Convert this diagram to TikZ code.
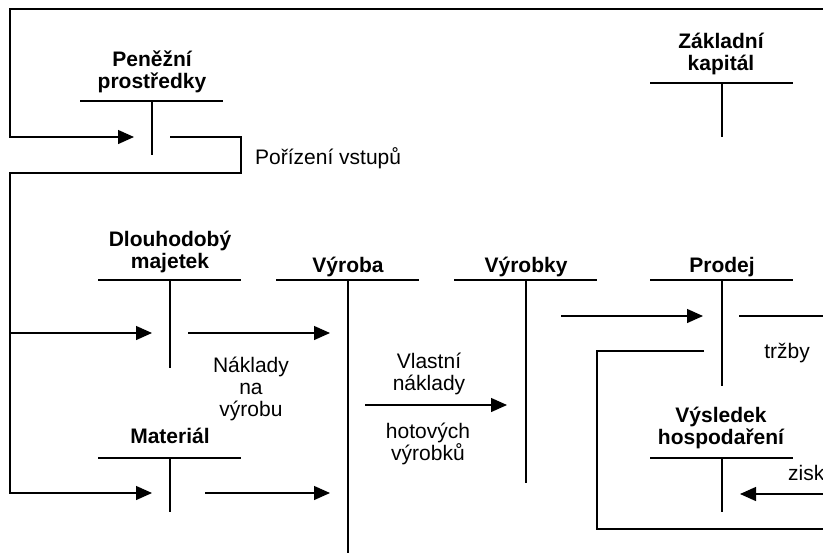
\documentclass[tikz,border=0pt]{standalone}
\usepackage{fontspec}
\setmainfont{Liberation Sans}
\usetikzlibrary{arrows.meta}
\begin{document}
\begin{tikzpicture}[x=1pt,y=-1pt,
  tline/.style={line width=1.3pt},
  arr/.style={tline,-{Triangle[length=16pt,width=14pt]}},
  ttl/.style={font=\fontsize{21}{22}\selectfont\bfseries, align=center, inner sep=0pt, anchor=base},
  lbl/.style={font=\fontsize{21}{22}\selectfont, align=center, inner sep=0pt, anchor=base}]
\useasboundingbox (0,0) rectangle (823,560);

% ---- T-accounts ----
% Penezni prostredky
\node[ttl] (tPen) at (152,88) {Peněžní\\prostředky};
\coordinate (penL) at (80,101); \coordinate (penR) at (223,101);
\coordinate (penT) at (152,101); \coordinate (penB) at (152,155);
\draw[tline] (penL) -- (penR); \draw[tline] (penT) -- (penB);
% Zakladni kapital
\node[ttl] (tZak) at (721,70) {Základní\\kapitál};
\coordinate (zakL) at (650,83); \coordinate (zakR) at (793,83);
\coordinate (zakT) at (722,83); \coordinate (zakB) at (722,137);
\draw[tline] (zakL) -- (zakR); \draw[tline] (zakT) -- (zakB);
% Dlouhodoby majetek
\node[ttl] (tDlo) at (170,268) {Dlouhodobý\\majetek};
\coordinate (dloL) at (98,280); \coordinate (dloR) at (241,280);
\coordinate (dloT) at (170,280); \coordinate (dloB) at (170,368);
\draw[tline] (dloL) -- (dloR); \draw[tline] (dloT) -- (dloB);
% Vyroba
\node[ttl] (tVba) at (348,272) {Výroba};
\coordinate (vbaL) at (276,280); \coordinate (vbaR) at (419,280);
\coordinate (vbaT) at (348,280); \coordinate (vbaB) at (348,553);
\draw[tline] (vbaL) -- (vbaR); \draw[tline] (vbaT) -- (vbaB);
% Vyrobky
\node[ttl] (tVky) at (526,272) {Výrobky};
\coordinate (vkyL) at (454,280); \coordinate (vkyR) at (597,280);
\coordinate (vkyT) at (526,280); \coordinate (vkyB) at (526,483);
\draw[tline] (vkyL) -- (vkyR); \draw[tline] (vkyT) -- (vkyB);
% Prodej
\node[ttl] (tPro) at (722,272) {Prodej};
\coordinate (proL) at (650,280); \coordinate (proR) at (793,280);
\coordinate (proT) at (722,280); \coordinate (proB) at (722,386);
\draw[tline] (proL) -- (proR); \draw[tline] (proT) -- (proB);
% Material
\node[ttl] (tMat) at (170,443) {Materiál};
\coordinate (matL) at (98,458); \coordinate (matR) at (241,458);
\coordinate (matT) at (170,458); \coordinate (matB) at (170,512);
\draw[tline] (matL) -- (matR); \draw[tline] (matT) -- (matB);
% Vysledek hospodareni
\node[ttl] (tVys) at (721,444) {Výsledek\\hospodaření};
\coordinate (vysL) at (650,458); \coordinate (vysR) at (793,458);
\coordinate (vysT) at (722,458); \coordinate (vysB) at (722,512);
\draw[tline] (vysL) -- (vysR); \draw[tline] (vysT) -- (vysB);

% ---- connectors ----
\coordinate (fTR) at (823,9); \coordinate (fTL) at (10,9);
\coordinate (fML) at (10,137); \coordinate (penIn) at (134,137);
\draw[arr] (fTR) -- (fTL) -- (fML) -- (penIn);

\coordinate (penOut) at (170,137); \coordinate (oA) at (241,137);
\coordinate (oB) at (241,173); \coordinate (oC) at (10,173);
\coordinate (oD) at (10,493); \coordinate (matIn) at (152,493);
\draw[arr] (penOut) -- (oA) -- (oB) -- (oC) -- (oD) -- (matIn);
\coordinate (oE) at (10,333); \coordinate (dloIn) at (152,333);
\draw[arr] (oE) -- (dloIn);

\coordinate (dloOut) at (188,333); \coordinate (vbaIn1) at (330,333);
\draw[arr] (dloOut) -- (vbaIn1);
\coordinate (matOut) at (205,493); \coordinate (vbaIn2) at (330,493);
\draw[arr] (matOut) -- (vbaIn2);
\coordinate (vbaOut) at (365,405); \coordinate (vkyIn) at (507,405);
\draw[arr] (vbaOut) -- (vkyIn);
\coordinate (vkyOut) at (561,316); \coordinate (proIn) at (703,316);
\draw[arr] (vkyOut) -- (proIn);
\coordinate (proOut) at (739,316); \coordinate (rE1) at (823,316);
\draw[tline] (proOut) -- (rE1);
\coordinate (proOut2) at (704,351); \coordinate (lA) at (597,351);
\coordinate (lB) at (597,529); \coordinate (rE2) at (823,529);
\draw[tline] (proOut2) -- (lA) -- (lB) -- (rE2);
\coordinate (rE3) at (823,494); \coordinate (vysIn) at (740,494);
\draw[arr] (rE3) -- (vysIn);

% ---- labels ----
\node[lbl, anchor=base west] (lPor) at (255,164) {Pořízení vstupů};
\node[lbl] (lNak) at (251,416) {Náklady\\na\\výrobu};
\node[lbl] (lVla) at (429,390) {Vlastní\\náklady};
\node[lbl] (lHot) at (428,460) {hotových\\výrobků};
\node[lbl] (lTrz) at (787,358) {tržby};
\node[lbl, anchor=base west] (lZis) at (788,480) {zisk};
\end{tikzpicture}
\end{document}
